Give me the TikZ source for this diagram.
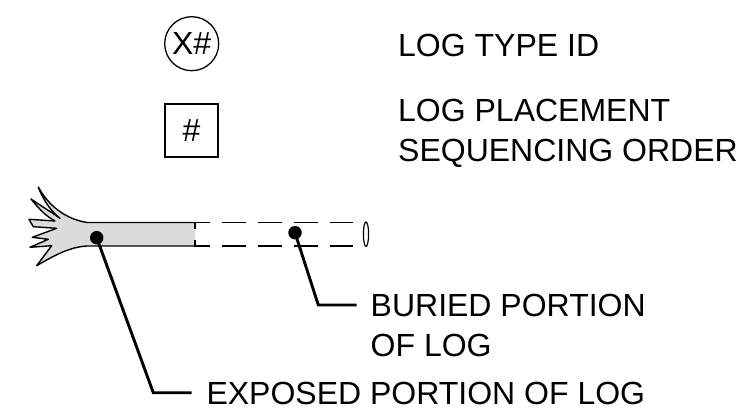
\documentclass[tikz,border=0pt]{standalone}
\usepackage{fontspec}
\setmainfont{Liberation Sans}
\begin{document}
\begin{tikzpicture}[x=1pt,y=-1pt,
  lbl/.style={inner sep=0pt,anchor=base west,
    font=\fontsize{32}{39.3}\selectfont},
  lbltwo/.style={lbl,align=left},
  outline/.style={line width=1.4pt,line join=round},
  leader/.style={line width=2.9pt,line cap=butt,line join=miter},
  pin/.style={circle,fill=black,inner sep=0pt,minimum size=13.5pt},
  buried/.style={line width=1.4pt,dash pattern=on 21 off 12 on 24 off 12 on 24 off 12 on 24 off 12 on 24},
  logfill/.style={fill=black!14}]
\useasboundingbox (0,0) rectangle (747,409);

% legend symbols
\node[circle,draw,line width=1.3pt,minimum size=54pt,inner sep=0pt,
  font=\fontsize{32}{38}\selectfont] (typeid) at (191.7,43.7) {X\#};
\node[draw,line width=1.6pt,minimum size=53pt,inner sep=0pt,
  font=\fontsize{32}{38}\selectfont] (order) at (191.5,130.5) {\#};
\node[lbl] (typetxt) at (398,56.7) {LOG TYPE ID};
% two-line labels are placed by the baseline of their last line
\node[lbltwo] (ordertxt) at (398,161) {LOG PLACEMENT\\SEQUENCING ORDER};

% exposed portion with root wad
\path[logfill] (195,222.5) -- (87,222.5)
  .. controls (65,219) and (48,205) .. (38.3,187)
  .. controls (44,202) and (52,212) .. (60,218.3)
  .. controls (48,210) and (38,204) .. (31,199)
  .. controls (40,210) and (46,216) .. (55,221)
  -- (29,219.3) -- (33.3,226.7) -- (56.7,228.3)
  -- (32.3,237.3) -- (48.3,239.3) -- (30,247.3) -- (51.7,245.7)
  -- (36.7,265.7)
  .. controls (55,255) and (70,247) .. (87,246) -- (195,246) -- cycle;
\draw[outline] (195,222.5) -- (87,222.5)
  .. controls (65,219) and (48,205) .. (38.3,187)
  .. controls (44,202) and (52,212) .. (60,218.3)
  .. controls (48,210) and (38,204) .. (31,199)
  .. controls (40,210) and (46,216) .. (55,221)
  -- (29,219.3) -- (33.3,226.7) -- (56.7,228.3)
  -- (32.3,237.3) -- (48.3,239.3) -- (30,247.3) -- (51.7,245.7)
  -- (36.7,265.7)
  .. controls (55,255) and (70,247) .. (87,246) -- (195,246);

% buried portion, dashed
\draw[buried] (195,228.5) -- (195,222.5) -- (353,222.5);
\draw[buried] (195,240) -- (195,246) -- (353,246);
\draw[line width=1.2pt] (366,234.2) ellipse [x radius=2.6, y radius=12.2];

% pointers and labels
\node[pin] (exposedpin) at (96.7,237.7) {};
\node[pin] (buriedpin) at (295,232.7) {};
\coordinate (exposedknee) at (153.3,392.7);
\coordinate (exposedend) at (191.7,392.7);
\coordinate (buriedknee) at (318.3,305);
\coordinate (buriedend) at (356.7,305);
\draw[leader] (exposedpin.center) -- (exposedknee) -- (exposedend);
\draw[leader] (buriedpin.center) -- (buriedknee) -- (buriedend);
\node[lbltwo] (buriedtxt) at (370.5,356) {BURIED PORTION\\OF LOG};
\node[lbl] (exposedtxt) at (206.3,404.3) {EXPOSED PORTION OF LOG};
\end{tikzpicture}
\end{document}
